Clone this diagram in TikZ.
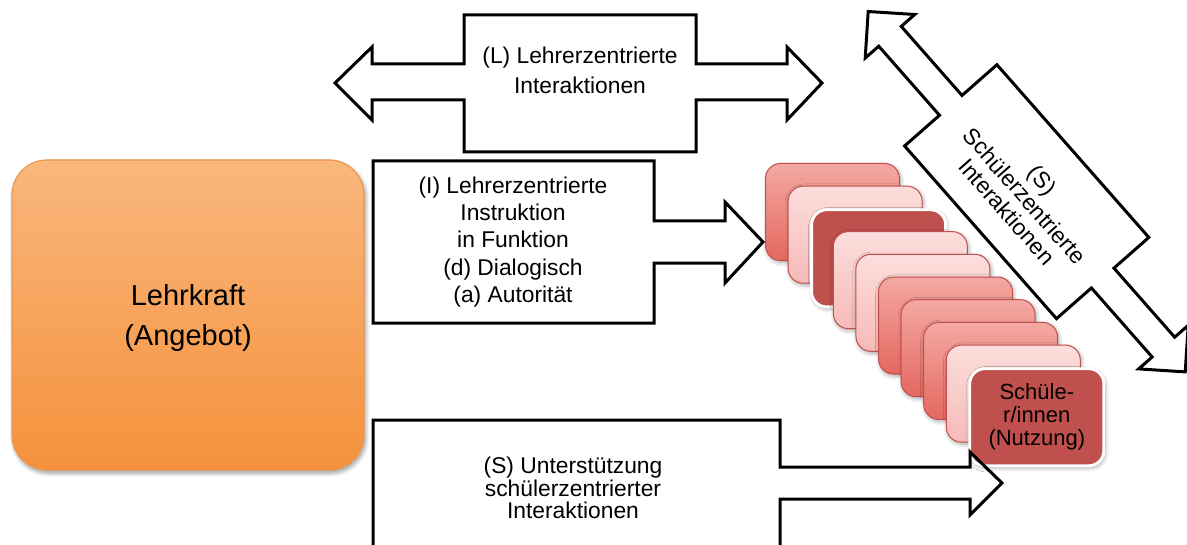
\documentclass[tikz,border=0pt]{standalone}
\usepackage{fontspec}
\setmainfont{Liberation Sans}
\usetikzlibrary{shadows.blur}
\definecolor{orTop}{RGB}{249,183,125}
\definecolor{orBot}{RGB}{245,145,60}
\definecolor{orLine}{RGB}{238,150,80}
\definecolor{sTop}{RGB}{244,168,162}
\definecolor{sBot}{RGB}{228,104,96}
\definecolor{pTop}{RGB}{252,222,220}
\definecolor{pBot}{RGB}{246,186,183}
\definecolor{dRed}{RGB}{192,80,77}
\tikzset{
  blockarrow/.style={draw=black, line width=1.5pt, line join=miter, fill=white},
  lbl/.style={font=\fontsize{11.4}{15}\selectfont, align=center, inner sep=0pt},
  card/.style={rounded corners=7.5pt, minimum width=67pt, minimum height=48.5pt,
    inner sep=0pt, anchor=north west,
    blur shadow={shadow xshift=0.6pt, shadow yshift=-1pt, shadow blur steps=6, shadow opacity=35}},
}
\begin{document}
\begin{tikzpicture}[x=0.5pt,y=-0.5pt]
\useasboundingbox (0,0) rectangle (1187,545);
\clip (0,0) rectangle (1187,545);

% Lehrkraft
\node[rounded corners=17.5pt, minimum width=176pt, minimum height=155pt,
  top color=orTop, bottom color=orBot, draw=orLine, line width=0.6pt,
  blur shadow={shadow xshift=0.8pt, shadow yshift=-1.5pt, shadow blur steps=8, shadow opacity=40}]
  (lk) at (188,315) {};
\node[lbl, font=\fontsize{14.5}{20}\selectfont] (lktext) at (188,318) {Lehrkraft\\(Angebot)};

% (L) double arrow
\draw[blockarrow] (335,83) -- (372,47) -- (372,64) -- (464,64) -- (464,15) -- (696,15)
  -- (696,64) -- (787,64) -- (787,47) -- (822,83) -- (787,120) -- (787,100) -- (696,100)
  -- (696,152) -- (464,152) -- (464,100) -- (372,100) -- (372,120) -- cycle;
\node[lbl] (ltext) at (580,70) {(L) Lehrerzentrierte\\Interaktionen};

% (I) arrow
\draw[blockarrow] (373,161) -- (654,161) -- (654,221) -- (725,221) -- (725,202) -- (763,242)
  -- (725,283) -- (725,263) -- (654,263) -- (654,323) -- (373,323) -- cycle;
\node[lbl, font=\fontsize{11.4}{13.6}\selectfont] (itext) at (513,242)
  {(I) Lehrerzentrierte\\Instruktion\\in Funktion\\(d) Dialogisch\\(a) Autorität};

% (S) bottom arrow fill
\fill[white] (373,420) -- (780,420) -- (780,467) -- (970,467) -- (970,452) -- (1002,483)
  -- (970,515) -- (970,499) -- (780,499) -- (780,560) -- (373,560) -- cycle;

% stacked cards
\foreach \i/\tc/\bc/\dc/\lw in {0/sTop/sBot/dRed/0.5pt,1/pTop/pBot/dRed/0.5pt,2/dRed/dRed/white/1.4pt,
  3/pTop/pBot/dRed/0.5pt,4/pTop/pBot/dRed/0.5pt,5/sTop/sBot/dRed/0.5pt,6/sTop/sBot/dRed/0.5pt,
  7/sTop/sBot/dRed/0.5pt,8/pTop/pBot/dRed/0.5pt,9/dRed/dRed/white/1.4pt}{
  \node[card, top color=\tc, bottom color=\bc, draw=\dc, line width=\lw]
    (c\i) at ({765+22.6*\i},{163+22.7*\i}) {};
}
\node[lbl, font=\fontsize{11}{11.5}\selectfont] (stud) at (c9.center) {Schüle-\\r/innen\\(Nutzung)};

% (S) bottom arrow outline
\draw[blockarrow, fill=none] (373,560) -- (373,420) -- (780,420) -- (780,467) -- (970,467) -- (970,452) -- (1002,483)
  -- (970,515) -- (970,499) -- (780,499) -- (780,560);
\node[lbl, font=\fontsize{11.4}{11.25}\selectfont] (stext) at (573,488)
  {(S) Unterstützung\\schülerzentrierter\\Interaktionen};

% (S) diagonal double arrow
\begin{scope}[shift={(1026.7,191.7)}, rotate=-48.66]
\draw[blockarrow] (-240,0) -- (-207,-33) -- (-207,-15) -- (-115,-15) -- (-115,-61.5)
  -- (115,-61.5) -- (115,-15) -- (207,-15) -- (207,-33) -- (240,0) -- (207,33) -- (207,15)
  -- (115,15) -- (115,61.5) -- (-115,61.5) -- (-115,15) -- (-207,15) -- (-207,33) -- cycle;
\node[lbl, font=\fontsize{11.4}{12}\selectfont, rotate=-48.66] (dtext) at (2,4)
  {(S)\\Schülerzentrierte\\Interaktionen};
\end{scope}
\end{tikzpicture}
\end{document}
